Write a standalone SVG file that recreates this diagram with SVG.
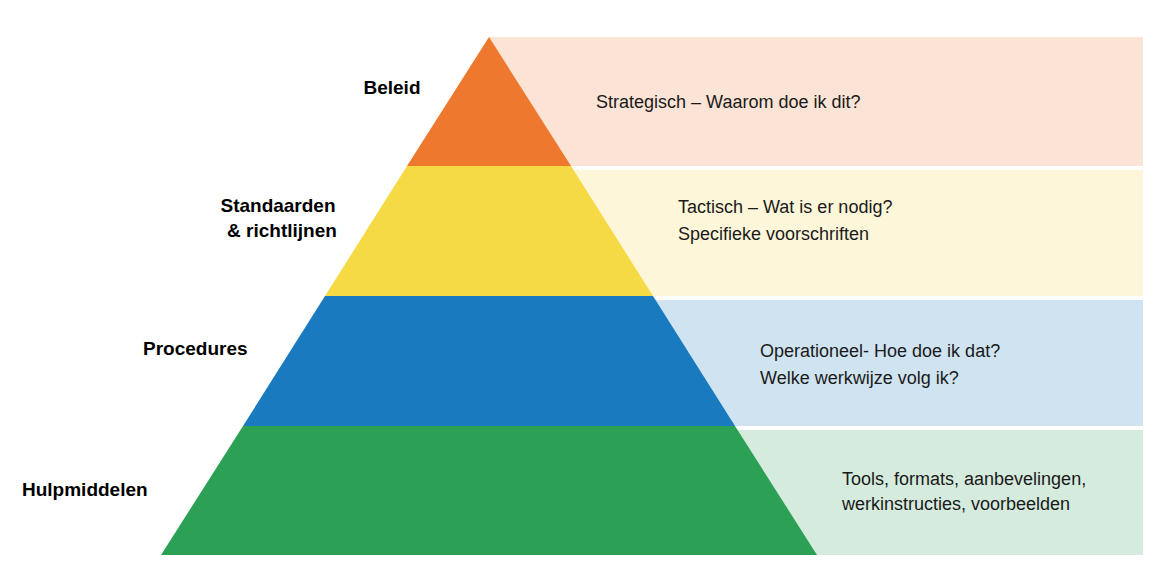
<svg xmlns="http://www.w3.org/2000/svg" width="1155" height="565" viewBox="0 0 1155 565">
<style>
.l{font-family:"Liberation Sans",Arial,sans-serif;font-weight:bold;font-size:19px;fill:#000}
.t{font-family:"Liberation Sans",Arial,sans-serif;font-size:18px;fill:#1a1a1a}
</style>
<rect width="1155" height="565" fill="#fff"/>
<g id="bands">
<rect x="489" y="37" width="654" height="129" fill="#FBE4D6"/>
<rect x="489" y="170" width="654" height="126" fill="#FDF6D9"/>
<rect x="489" y="300" width="654" height="126" fill="#D0E3F1"/>
<rect x="489" y="430" width="654" height="125" fill="#D5EBDD"/>
</g>
<g id="beleid"><polygon points="489,37 571,166 407,166" fill="#EE782D"/><text class="l" x="392" y="94" text-anchor="middle">Beleid</text><text class="t" x="596" y="108">Strategisch – Waarom doe ik dit?</text></g>
<g id="standaarden"><polygon points="407,166 571,166 653,296 325,296" fill="#F5DA45"/><text class="l" x="278" y="212" text-anchor="middle">Standaarden</text><text class="l" x="282" y="237" text-anchor="middle">&amp; richtlijnen</text><text class="t" x="678" y="213">Tactisch – Wat is er nodig?</text><text class="t" x="678" y="240">Specifieke voorschriften</text></g>
<g id="procedures"><polygon points="325,296 653,296 735,426 243,426" fill="#1A7ABF"/><text class="l" x="143" y="355">Procedures</text><text class="t" x="760" y="357">Operationeel- Hoe doe ik dat?</text><text class="t" x="760" y="384">Welke werkwijze volg ik?</text></g>
<g id="hulpmiddelen"><polygon points="243,426 735,426 817,555 161,555" fill="#2CA155"/><text class="l" x="22" y="496">Hulpmiddelen</text><text class="t" x="842" y="485">Tools, formats, aanbevelingen,</text><text class="t" x="842" y="510">werkinstructies, voorbeelden</text></g>
<g id="connectors"/>
</svg>
